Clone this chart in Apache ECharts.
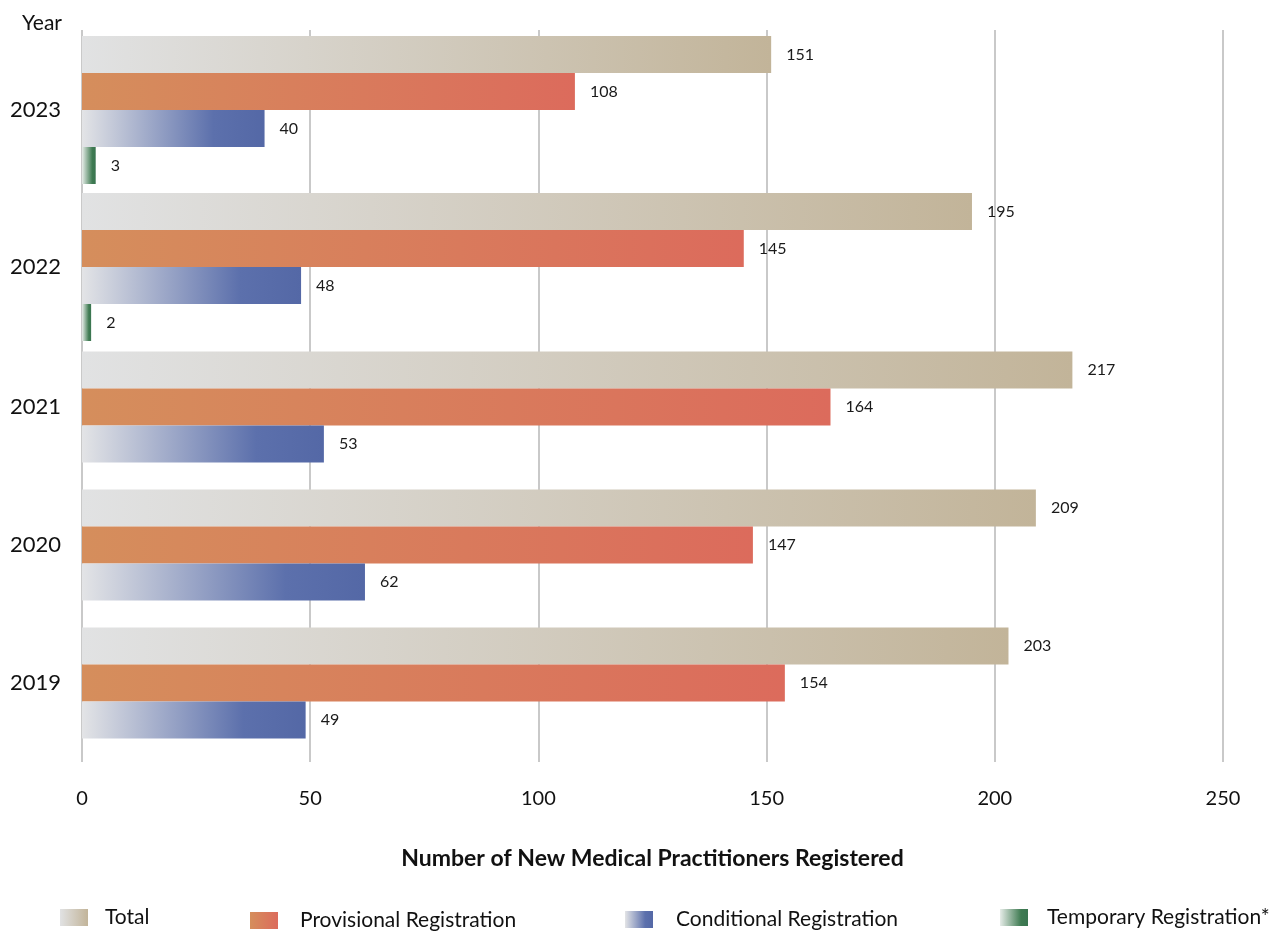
<!DOCTYPE html>
<html>
<head>
<meta charset="utf-8">
<title>New Medical Practitioners Registered</title>
<script src="https://cdn.jsdelivr.net/npm/echarts@6/dist/echarts.min.js"></script>
<style>
  html, body { margin: 0; padding: 0; background: #ffffff; }
  #chart { width: 1282px; height: 932px; }
</style>
</head>
<body>
<div id="chart"></div>
<script>
// Registrations per year, newest first
const years = ['2023', '2022', '2021', '2020', '2019'];
const total = [151, 195, 217, 209, 203];
const provisional = [108, 145, 164, 147, 154];
const conditional = [40, 48, 53, 62, 49];
const temporary = [3, 2, null, null, null];
const xTicks = [0, 50, 100, 150, 200, 250];

const FONT = 'Lato, "Open Sans", sans-serif';
const G = echarts.graphic.LinearGradient;

const seriesDefs = [
  { name: 'Total', values: total,
    color: new G(0, 0, 1, 0, [{ offset: 0, color: '#e1e2e3' }, { offset: 1, color: '#c2b499' }]) },
  { name: 'Provisional Registration', values: provisional,
    color: new G(0, 0, 1, 0, [{ offset: 0, color: '#d58e5c' }, { offset: 1, color: '#dc6b5c' }]) },
  { name: 'Conditional Registration', values: conditional,
    color: new G(0, 0, 1, 0, [{ offset: 0, color: '#e3e4e6' }, { offset: 0.72, color: '#5c70ac' }, { offset: 1, color: '#5468a6' }]) },
  { name: 'Temporary Registration*', values: temporary,
    color: new G(0, 0, 1, 0, [{ offset: 0, color: '#e6ece8' }, { offset: 0.75, color: '#3f7b52' }, { offset: 1, color: '#3a7550' }]) }
];

// Years with a temporary registration get four bars, the rest three.
const idxA = years.map((y, i) => i).filter(i => temporary[i] != null);
const idxB = years.map((y, i) => i).filter(i => temporary[i] == null);
const pick = (arr, idx) => idx.map(i => arr[i]);

const xMin = xTicks[0], xMax = xTicks[xTicks.length - 1], xStep = xTicks[1] - xTicks[0];

const barLabel = {
  show: true, position: 'right', distance: 15,
  color: '#1a1a1a', fontFamily: FONT, fontSize: 16
};

const series = [];
seriesDefs.forEach(def => {
  // upper block (four bars per year)
  series.push({
    type: 'bar', name: def.name, xAxisIndex: 0, yAxisIndex: 0,
    data: pick(def.values, idxA), barWidth: 37, barGap: '0%',
    itemStyle: { color: def.color }, label: barLabel, emphasis: { disabled: true }
  });
  // lower block (three bars per year)
  if (pick(def.values, idxB).some(v => v != null)) {
    series.push({
      type: 'bar', name: def.name, xAxisIndex: 1, yAxisIndex: 1,
      data: pick(def.values, idxB), barWidth: 37, barGap: '0%',
      itemStyle: { color: def.color }, label: barLabel, emphasis: { disabled: true }
    });
  }
});

const legendLeft = [55, 245, 620, 995];
const legendTop = [902, 905, 904, 902];
const legendPad = [12, 17, 18, 14];
const legends = seriesDefs.map((def, i) => ({
  data: [def.name], left: legendLeft[i], top: legendTop[i],
  icon: 'rect', itemWidth: 28, itemHeight: 17, selectedMode: false,
  textStyle: { fontFamily: FONT, fontSize: 21, color: '#111', padding: [0, 0, 0, legendPad[i]] }
}));

const hiddenX = {
  type: 'value', min: xMin, max: xMax, interval: xStep,
  axisLabel: { show: false }, axisLine: { show: false }, axisTick: { show: false },
  splitLine: { show: false }
};
const yearAxis = (gridIndex, data) => ({
  type: 'category', gridIndex, data, inverse: true,
  axisLine: { show: false }, axisTick: { show: false },
  axisLabel: { color: '#111', fontFamily: FONT, fontSize: 22, margin: 21 }
});

const option = {
  backgroundColor: '#ffffff',
  animation: false,
  title: {
    text: 'Year', left: 17, top: 8,
    textStyle: { fontFamily: FONT, fontSize: 21, fontWeight: 'normal', color: '#111' }
  },
  legend: legends,
  grid: [
    { left: 82, right: 59, top: 31.5, height: 314 },
    { left: 82, right: 59, top: 338, height: 414 },
    { left: 82, right: 59, top: 30, height: 732 }
  ],
  xAxis: [
    Object.assign({ gridIndex: 0 }, hiddenX),
    {
      type: 'value', gridIndex: 1, min: xMin, max: xMax, interval: xStep,
      axisLine: { show: false }, axisTick: { show: false }, splitLine: { show: false },
      axisLabel: { color: '#111', fontFamily: FONT, fontSize: 20, margin: 37 },
      name: 'Number of New Medical Practitioners Registered',
      nameLocation: 'middle', nameGap: 95,
      nameTextStyle: { fontFamily: FONT, fontSize: 23, fontWeight: 'bold', color: '#111' }
    },
    Object.assign({}, hiddenX, {
      gridIndex: 2,
      splitLine: { show: true, lineStyle: { color: '#c9c9c9', width: 2 } }
    })
  ],
  yAxis: [
    yearAxis(0, pick(years, idxA)),
    yearAxis(1, pick(years, idxB)),
    { type: 'value', gridIndex: 2, show: false }
  ],
  series
};

const chart = echarts.init(document.getElementById('chart'), null, { renderer: 'canvas' });
chart.setOption(option);
</script>
</body>
</html>
